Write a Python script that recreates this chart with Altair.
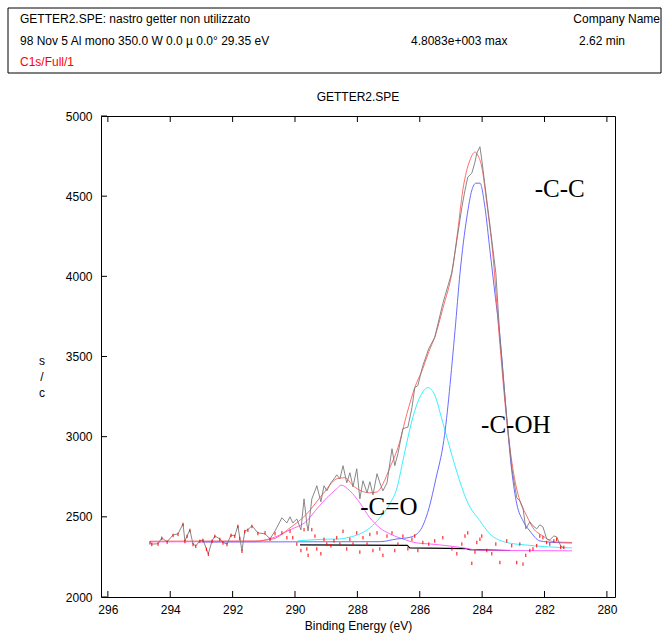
import altair as alt
import pandas as pd

# ---------------- data ----------------
raw_ev = [294.65, 294.59, 294.39, 294.27, 294.10, 293.91, 293.75, 293.59, 293.53, 293.46,
          293.37, 293.27, 293.18, 293.05, 292.95, 292.84, 292.78, 292.66, 292.57, 292.41,
          292.31, 292.18, 292.05, 291.93, 291.83, 291.77, 291.70, 291.61, 291.51, 291.38,
          291.19,
          290.96, 290.80, 290.64, 290.42, 290.26, 290.16, 290.07, 289.94, 289.81, 289.71,
          289.62, 289.58, 289.46, 289.36, 289.30, 289.17, 289.07, 288.98, 288.85, 288.75,
          288.66, 288.56, 288.46, 288.34, 288.24, 288.14, 288.02, 287.92, 287.82, 287.69,
          287.60, 287.50, 287.37, 287.28, 287.18, 287.05, 286.89, 286.80, 286.70, 286.54,
          286.38, 286.25, 286.16, 286.06, 285.90, 285.71, 285.52, 285.26, 284.97, 284.81,
          284.65, 284.55, 284.46, 284.33, 284.23, 284.17, 284.07, 284.01, 283.85, 283.69,
          283.56, 283.43, 283.21, 283.05, 282.89, 282.79, 282.69, 282.60, 282.47, 282.37,
          282.25, 282.15, 282.05, 281.93, 281.83, 281.70, 281.61, 281.48, 281.38]
raw_cps = [2340, 2330, 2332, 2369, 2344, 2387, 2394, 2456, 2350, 2381,
           2419, 2330, 2319, 2350, 2356, 2300, 2269, 2350, 2381, 2362,
           2340, 2330, 2387, 2381, 2444, 2369, 2288, 2412, 2420, 2444,
           2400,
           2394, 2362, 2412, 2494, 2462, 2500, 2462, 2487, 2419, 2612,
           2456, 2412, 2612, 2662, 2694, 2594, 2694, 2662, 2712, 2737,
           2762, 2737, 2819, 2712, 2775, 2687, 2800, 2612, 2725, 2650,
           2719, 2637, 2769, 2712, 2662, 2712, 2925, 2819, 2894, 3050,
           3060, 3181, 3306, 3319, 3444, 3550, 3619, 3831, 4025, 4225,
           4431, 4537, 4619, 4644, 4712, 4769, 4808, 4725, 4475, 4225,
           4019, 3619, 3119, 2806, 2619, 2600, 2556, 2425, 2469, 2444,
           2425, 2450, 2437, 2362, 2356, 2381, 2375, 2319, 2305]
resid_cps = [2338, 2328, 2330, 2366, 2342, 2384, 2390, 2452, 2346, 2378,
             2415, 2327, 2316, 2347, 2353, 2297, 2266, 2347, 2378, 2359,
             2337, 2327, 2384, 2378, 2440, 2365, 2285, 2408, 2416, 2440,
             2396,
             2400, 2360, 2395, 2400, 2370, 2410, 2370, 2330, 2290, 2420,
             2300, 2260, 2420, 2380, 2300, 2270, 2360, 2330, 2320, 2350,
             2370, 2330, 2410, 2300, 2360, 2330, 2400, 2280, 2370, 2330,
             2390, 2290, 2400, 2300, 2260, 2380, 2400, 2290, 2330, 2380,
             2300, 2360, 2380, 2290, 2340, 2330, 2350, 2370, 2300, 2270,
             2330, 2380, 2400, 2210, 2280, 2340, 2360, 2380, 2290, 2270,
             2330, 2215, 2350, 2320, 2215, 2330, 2205, 2260, 2290, 2300,
             2320, 2380, 2370, 2340, 2330, 2350, 2360, 2310, 2310]

# fit envelope (sum)
env_ev = [294.65, 291.28, 290.71, 290.16, 289.62, 289.10, 288.66, 288.40, 288.14, 287.86,
          287.60, 287.37, 287.18, 286.96, 286.70, 286.41, 286.16, 285.90, 285.71, 285.52,
          285.26, 284.94, 284.78, 284.62, 284.39, 284.23, 284.14, 284.01, 283.85, 283.66,
          283.43, 283.21, 283.02, 282.79, 282.57, 282.37, 282.05, 281.73, 281.12]
env_cps = [2348, 2350, 2362, 2431, 2519, 2644, 2737, 2744, 2694, 2660,
           2650, 2655, 2706, 2806, 2931, 3144, 3306, 3425, 3530, 3620,
           3800, 4056, 4287, 4537, 4725, 4775, 4756, 4681, 4456, 4144,
           3575, 3100, 2806, 2600, 2506, 2431, 2381, 2345, 2340]

# C-C component (blue)
cc_ev = [293.00, 287.28, 286.73, 286.32, 286.00, 285.71, 285.48, 285.23, 284.87, 284.71,
         284.49, 284.33, 284.20, 284.07, 283.91, 283.75, 283.59, 283.43, 283.21, 283.05,
         282.89, 282.69, 282.47, 282.15, 281.67, 281.12]
cc_cps = [2343, 2345, 2362, 2372, 2412, 2550, 2740, 2975, 3660, 4019,
          4369, 4537, 4581, 4581, 4431, 4162, 3894, 3625, 3112, 2787,
          2581, 2475, 2412, 2350, 2340, 2337]

# C-OH component (cyan)
coh_ev = [289.91, 289.10, 288.56, 288.34, 287.92, 287.60, 287.28, 286.96, 286.73, 286.54,
          286.38, 286.16, 285.96, 285.74, 285.52, 285.32, 285.10, 284.81, 284.49, 284.07,
          283.75, 283.21, 282.63, 281.12]
coh_cps = [2350, 2360, 2362, 2369, 2394, 2431, 2494, 2581, 2681, 2850,
           2994, 3162, 3260, 3306, 3260, 3130, 2975, 2780, 2600, 2475,
           2394, 2340, 2325, 2306]

# C=O component (magenta)
co_ev = [294.65, 291.28, 290.96, 290.71, 290.16, 289.62, 289.30, 288.98, 288.66, 288.52,
         288.24, 287.92, 287.60, 287.28, 286.96, 286.54, 286.09, 285.68, 284.71, 284.07,
         281.12]
co_cps = [2344, 2345, 2356, 2369, 2419, 2475, 2550, 2619, 2675, 2698,
          2662, 2587, 2494, 2431, 2394, 2362, 2337, 2331, 2310, 2292,
          2288]

# background (black)
bg_ev = [289.84, 286.40, 286.32, 284.50, 284.40, 283.10]
bg_cps = [2325, 2322, 2306, 2302, 2296, 2290]

x_ticks = [296, 294, 292, 290, 288, 286, 284, 282, 280]
y_ticks = [2000, 2500, 3000, 3500, 4000, 4500, 5000]

ann_text = ["-C-C", "-C-OH", "-C=O"]
ann_ev = [281.51, 282.92, 286.99]
ann_cps = [4494, 3025, 2512]

# ---------------- chart ----------------
FONT = "Liberation Sans"
W, H = 514, 481

xs = alt.Scale(domain=[279.74, 296.22], reverse=True, nice=False, zero=False)
ys = alt.Scale(domain=[2000, 5000], nice=False, zero=False)
X_AXIS = alt.Axis(values=x_ticks, format="d", title="Binding Energy (eV)", grid=False,
                  ticks=False, domain=False, labelFont=FONT, labelFontSize=12,
                  labelColor="black", labelPadding=7, labelFlush=False,
                  titleFont=FONT, titleFontSize=12, titleFontWeight="normal",
                  titleColor="black", titlePadding=5)
Y_AXIS = alt.Axis(values=y_ticks, format="d", title=None, grid=False, ticks=False,
                  domain=False, labelFont=FONT, labelFontSize=12, labelColor="black",
                  labelPadding=9, labelFlush=False)

X = alt.X("ev:Q", scale=xs, axis=X_AXIS)
Y = alt.Y("cps:Q", scale=ys, axis=Y_AXIS)


def line(ev, cps, color, interp="monotone", width=0.9):
    df = pd.DataFrame({"ev": ev, "cps": cps})
    return alt.Chart(df).mark_line(color=color, strokeWidth=width, interpolate=interp,
                                   clip=True).encode(x=X, y=Y)


one = pd.DataFrame({"k": [0]})


def txt(s, x, y, align="left", color="black", size=12, font=FONT):
    return alt.Chart(one).mark_text(text=s, align=align, baseline="middle", color=color,
                                    fontSize=size, font=font).encode(
        x=alt.value(x), y=alt.value(y))


xt = pd.DataFrame({"ev": x_ticks})
yt = pd.DataFrame({"cps": y_ticks})
bottom_ticks = alt.Chart(xt).mark_rule(color="black", strokeWidth=1).encode(
    x=X, y=alt.value(H - 6), y2=alt.value(H))
top_ticks = alt.Chart(xt).mark_rule(color="black", strokeWidth=1).encode(
    x=X, y=alt.value(0), y2=alt.value(6))
left_ticks = alt.Chart(yt).mark_rule(color="black", strokeWidth=1).encode(
    y=Y, x=alt.value(0), x2=alt.value(6))

raw_df = pd.DataFrame({"ev": raw_ev, "cps": raw_cps})
raw = alt.Chart(raw_df).mark_line(color="#7a7a7a", strokeWidth=0.9, clip=True).encode(x=X, y=Y)
res_df = pd.DataFrame({"ev": raw_ev, "cps": resid_cps})
resid = alt.Chart(res_df).mark_point(shape="M0,-1L0,1", size=12, color="red", filled=False,
                                     strokeWidth=1, opacity=1).encode(x=X, y=Y)

ann_df = pd.DataFrame({"ev": ann_ev, "cps": ann_cps, "t": ann_text})
ann = alt.Chart(ann_df).mark_text(font="Liberation Serif", fontSize=25, align="center",
                                  baseline="alphabetic", color="black").encode(
    x=X, y=Y, text="t:N")

header_box = alt.Chart(one).mark_rect(filled=False, stroke="black", strokeWidth=1,
                                      fill="white", fillOpacity=0).encode(
    x=alt.value(-93), x2=alt.value(560), y=alt.value(-108), y2=alt.value(-43))

ylab = alt.Chart(one).mark_text(text=["s", "/", "c"], align="center", baseline="middle",
                                lineHeight=16, fontSize=12, font=FONT, color="black").encode(
    x=alt.value(-59), y=alt.value(245))

chart = alt.layer(
    bottom_ticks, top_ticks, left_ticks,
    line(bg_ev, bg_cps, "black", interp="linear", width=1.2),
    line(co_ev, co_cps, "#ff55ff"),
    line(coh_ev, coh_cps, "#22eeff"),
    line(cc_ev, cc_cps, "#5a5aff"),
    line(env_ev, env_cps, "#ff5c5c"),
    raw,
    resid,
    ann,
    header_box,
    txt("GETTER2.SPE: nastro getter non utilizzato", -81, -97),
    txt("Company Name", 559, -97, align="right"),
    txt("98 Nov 5 Al mono 350.0 W 0.0 µ 0.0° 29.35 eV", -81, -75),
    txt("4.8083e+003 max", 310, -75),
    txt("2.62 min", 478, -75),
    txt("C1s/Full/1", -81, -54, color="#ff0000"),
    txt("GETTER2.SPE", 257, -19, align="center"),
    ylab,
).properties(
    width=W, height=H,
    padding={"left": 101, "top": 116, "right": 53, "bottom": 42},
    autosize="none",
    background="white",
).configure_view(stroke="black", strokeWidth=1)

chart.save("out.html", embed_options={"renderer": "svg", "actions": False})
